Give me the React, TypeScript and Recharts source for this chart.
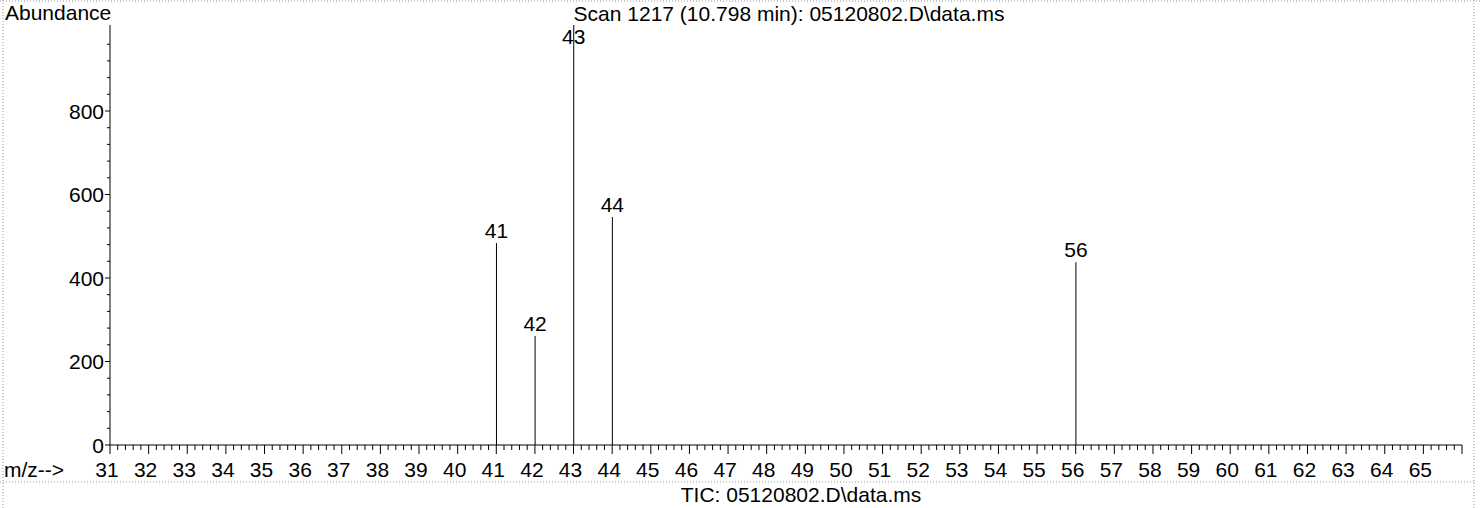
import React from "react";
import { ComposedChart, Bar, XAxis, YAxis, LabelList } from "recharts";

// m/z values of peaks and their abundances
const mzValues = [41, 42, 43, 44, 56];
const abundances = [484, 261, 1006, 546, 438];

// axis ticks (major every 1 m/z with minor every 0.2; y major every 200, minor every 40)
const xTicks: number[] = [];
for (let i = 0; i <= 175; i++) xTicks.push(Math.round((31 + i / 5) * 10) / 10);
const yTicks: number[] = [];
for (let i = 0; i <= 24; i++) yTicks.push(i * 40);
const yLabelMax = 800;

const titleText = "Scan 1217 (10.798 min): 05120802.D\\data.ms";
const ticText = "TIC: 05120802.D\\data.ms";
const yAxisLabel = "Abundance";
const xAxisLabel = "m/z-->";

const data = mzValues.map((mz, i) => ({ mz, ab: abundances[i] }));

const FONT = "'Liberation Sans', Arial, sans-serif";
const FS = 21;

const XTick = (props: any) => {
  const { x, y, payload } = props;
  const v = payload.value as number;
  const major = Math.abs(v - Math.round(v)) < 1e-6;
  return (
    <g>
      <line x1={x} x2={x} y1={y} y2={y + (major ? 9 : 5)} stroke="#000" strokeWidth={1} />
      {major && v < 66 && (
        <text x={x - 3} y={y + 32} textAnchor="middle" fontSize={FS} fontFamily={FONT} fill="#000">
          {Math.round(v)}
        </text>
      )}
    </g>
  );
};

const YTick = (props: any) => {
  const { x, y, payload } = props;
  const v = payload.value as number;
  const major = v % 200 === 0;
  return (
    <g>
      <line x1={x - (major ? 5 : 3)} x2={x} y1={y} y2={y} stroke="#000" strokeWidth={1} />
      {major && v <= yLabelMax && (
        <text x={x - 6} y={y + 7.5} textAnchor="end" fontSize={FS} fontFamily={FONT} fill="#000">
          {v}
        </text>
      )}
    </g>
  );
};

const PeakLabel = (p: any) => {
  const cx = p.x + p.width / 2;
  const by = Math.max(p.y - 5, 44);
  return (
    <text x={cx} y={by} textAnchor="middle" fontSize={FS} fontFamily={FONT} fill="#000">
      {p.value}
    </text>
  );
};

export default function App() {
  return (
    <div
      style={{
        position: "absolute",
        left: 0,
        top: 0,
        width: 1482,
        height: 508,
        background: "#fff",
        fontFamily: FONT,
      }}
    >
      <ComposedChart
        width={1482}
        height={508}
        data={data}
        margin={{ top: 25, right: 20, bottom: 23, left: 50 }}
      >
        <XAxis
          dataKey="mz"
          type="number"
          domain={[31, 66]}
          ticks={xTicks}
          interval={0}
          allowDataOverflow
          height={40}
          tickSize={0}
          tickMargin={0}
          tickLine={false}
          tick={<XTick />}
          axisLine={{ stroke: "#000", strokeWidth: 1 }}
        />
        <YAxis
          type="number"
          domain={[0, 1006]}
          ticks={yTicks}
          interval={0}
          allowDataOverflow
          width={60}
          tickSize={0}
          tickMargin={0}
          tickLine={false}
          tick={<YTick />}
          axisLine={{ stroke: "#000", strokeWidth: 1 }}
        />
        <Bar dataKey="ab" fill="#000" barSize={1} isAnimationActive={false}>
          <LabelList dataKey="mz" content={<PeakLabel />} />
        </Bar>
      </ComposedChart>
      <svg
        width={1482}
        height={508}
        style={{ position: "absolute", left: 0, top: 0, pointerEvents: "none" }}
      >
        <line x1={0} x2={1482} y1={1} y2={1} stroke="#999" strokeDasharray="1 2" />
        <line x1={3} x2={3} y1={0} y2={508} stroke="#999" strokeDasharray="1 2" />
        <line x1={1474} x2={1474} y1={0} y2={508} stroke="#999" strokeDasharray="1 2" />
        <line x1={0} x2={1474} y1={482} y2={482} stroke="#999" strokeDasharray="1 2" />
        <text x={5} y={20} fontSize={FS} fontFamily={FONT} fill="#000">{yAxisLabel}</text>
        <text x={789} y={21} textAnchor="middle" fontSize={FS} fontFamily={FONT} fill="#000">{titleText}</text>
        <text x={4} y={477} fontSize={FS} fontFamily={FONT} fill="#000">{xAxisLabel}</text>
        <text x={801} y={502} textAnchor="middle" fontSize={FS} fontFamily={FONT} fill="#000">{ticText}</text>
      </svg>
    </div>
  );
}
